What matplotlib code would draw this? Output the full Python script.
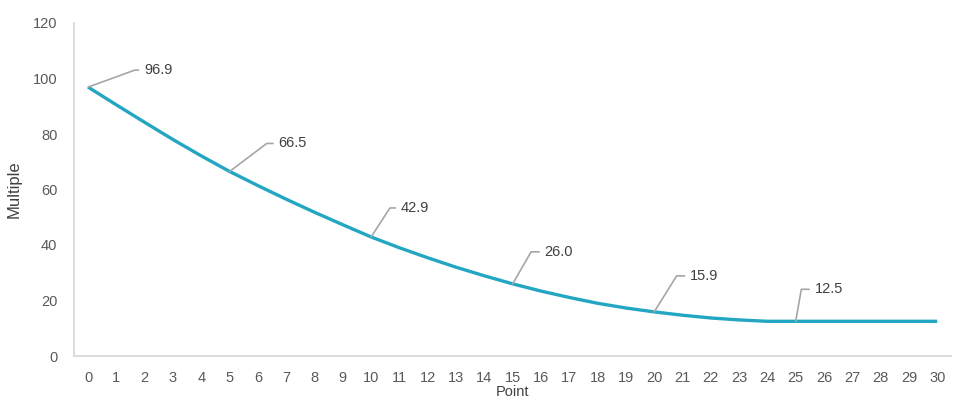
import matplotlib
matplotlib.use("Agg")
import matplotlib.pyplot as plt

points = list(range(31))
multiple = [96.9, 90.5, 84.2, 78.0, 72.1, 66.5, 61.4, 56.5, 51.8, 47.3,
            42.9, 39.0, 35.4, 32.0, 28.9, 26.0, 23.4, 21.1, 19.0, 17.3,
            15.9, 14.7, 13.7, 13.0, 12.5, 12.5, 12.5, 12.5, 12.5, 12.5, 12.5]
label_points = [0, 5, 10, 15, 20, 25]
y_ticks = [0, 20, 40, 60, 80, 100, 120]

plt.rcParams['font.family'] = ['Liberation Sans', 'DejaVu Sans']

fig = plt.figure(figsize=(9.6, 4.0), dpi=100)
ax = fig.add_axes([0.077, 0.11, 0.914, 0.8325])

line_color = '#22a6c2'
ax.plot(points, multiple, color=line_color, lw=2.4, solid_capstyle='butt', zorder=3)

# label offsets in pixels: (text dx, text dy, leader angle at point)
offsets = {0: (56, 17, 20), 5: (49, 28, 37), 10: (30, 29, 57),
           15: (32, 32, 60), 20: (36, 36, 58), 25: (19, 32, 80)}
for p in label_points:
    v = multiple[p]
    dx, dy, ang = offsets[p]
    ax.annotate(f"{v:.1f}", xy=(p, v), xytext=(dx, dy), textcoords='offset pixels',
                ha='left', va='center', fontsize=10.5, color='#404040',
                arrowprops=dict(arrowstyle='-', color='#a6a6a6', lw=1.2,
                                shrinkA=2, shrinkB=0,
                                connectionstyle='angle,angleA=180,angleB=%d,rad=0' % ang))

ax.set_xlim(-0.5, 30.5)
ax.set_ylim(0, 120)
ax.set_xticks(points)
ax.set_xticklabels([str(p) for p in points])
ax.set_yticks(y_ticks)
ax.set_yticklabels([str(t) for t in y_ticks])
ax.tick_params(axis='both', length=0, labelsize=10.5, labelcolor='#595959')
ax.tick_params(axis='y', pad=12)
ax.tick_params(axis='x', pad=11)

for s in ['top', 'right']:
    ax.spines[s].set_visible(False)
for s in ['left', 'bottom']:
    ax.spines[s].set_color('#d9d9d9')
    ax.spines[s].set_linewidth(1.3)

ax.set_ylabel('Multiple', fontsize=12, color='#404040', labelpad=8)
ax.set_xlabel('Point', fontsize=10.5, color='#404040', labelpad=0)

fig.savefig('out.png', dpi=100, facecolor='white')
